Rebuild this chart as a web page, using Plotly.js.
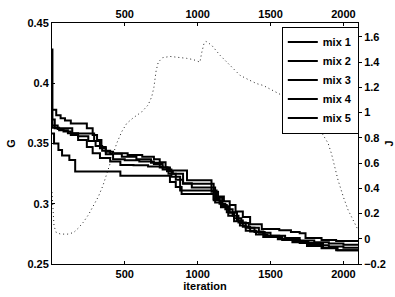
<!DOCTYPE html>
<html>
<head>
<meta charset="utf-8">
<script src="https://cdn.plot.ly/plotly-3.0.1.min.js"></script>
<style>html,body{margin:0;padding:0;background:#fff;}#chart{width:395px;height:297px;}</style>
</head>
<body>
<div id="chart"></div>
<script>
// ---- data ----
const seriesNames = ["mix 1", "mix 2", "mix 3", "mix 4", "mix 5"];

const mix1Iter = [1, 4, 50, 110, 180, 250, 300, 345, 400, 480, 580, 680, 740, 790, 830, 900, 960, 1090, 1110, 1160, 1200, 1250, 1300, 1350, 1420, 1500, 1600, 1700, 1800, 1900, 2000, 2100];
const mix1G    = [0.428, 0.363, 0.361, 0.3585, 0.356, 0.352, 0.348, 0.344, 0.3415, 0.339, 0.337, 0.334, 0.330, 0.327, 0.325, 0.3165, 0.3165, 0.3165, 0.303, 0.299, 0.293, 0.288, 0.284, 0.280, 0.276, 0.2735, 0.2715, 0.2695, 0.268, 0.267, 0.266, 0.266];

const mix2Iter = [1, 30, 60, 90, 130, 180, 240, 280, 310, 340, 370, 420, 520, 620, 700, 740, 780, 810, 927, 1095, 1140, 1180, 1220, 1260, 1310, 1360, 1440, 1560, 1640, 1700, 1740, 1850, 1950, 2100];
const mix2G    = [0.378, 0.3735, 0.371, 0.369, 0.3665, 0.3665, 0.3626, 0.357, 0.353, 0.347, 0.3432, 0.342, 0.3405, 0.339, 0.337, 0.3345, 0.330, 0.3275, 0.3195, 0.310, 0.306, 0.302, 0.299, 0.2935, 0.289, 0.283, 0.279, 0.278, 0.2765, 0.2755, 0.2715, 0.270, 0.269, 0.2685];

const mix3Iter = [1, 20, 70, 140, 200, 250, 290, 330, 370, 420, 500, 600, 700, 760, 800, 850, 900, 960, 1090, 1120, 1160, 1210, 1250, 1290, 1330, 1400, 1480, 1580, 1700, 1800, 1900, 2000, 2100];
const mix3G    = [0.370, 0.3626, 0.3626, 0.3584, 0.3584, 0.3584, 0.352, 0.346, 0.341, 0.337, 0.336, 0.335, 0.333, 0.330, 0.325, 0.320, 0.317, 0.3135, 0.3135, 0.301, 0.297, 0.290, 0.2855, 0.282, 0.2775, 0.2745, 0.2725, 0.270, 0.2675, 0.2655, 0.2645, 0.2635, 0.263];

const mix4Iter = [1, 40, 80, 130, 180, 240, 280, 330, 400, 470, 560, 660, 760, 820, 880, 1000, 1100, 1130, 1170, 1220, 1270, 1310, 1360, 1450, 1550, 1650, 1750, 1850, 1950, 2100];
const mix4G    = [0.365, 0.362, 0.360, 0.357, 0.353, 0.347, 0.342, 0.338, 0.335, 0.3322, 0.332, 0.331, 0.3285, 0.3225, 0.311, 0.311, 0.311, 0.305, 0.298, 0.2925, 0.286, 0.281, 0.277, 0.2725, 0.2705, 0.268, 0.265, 0.263, 0.2615, 0.2605];

const mix5Iter = [1, 15, 45, 70, 120, 160, 470, 780, 810, 850, 890, 1090, 1110, 1150, 1190, 1240, 1280, 1330, 1390, 1460, 1560, 1660, 1760, 1860, 1960, 2100];
const mix5G    = [0.3584, 0.350, 0.3446, 0.340, 0.3363, 0.3267, 0.3233, 0.3233, 0.318, 0.314, 0.308, 0.308, 0.304, 0.300, 0.2955, 0.290, 0.2845, 0.280, 0.2765, 0.2735, 0.271, 0.2685, 0.2665, 0.2635, 0.2615, 0.2615];

const jIter = [1, 8, 15, 30, 60, 110, 150, 182, 215, 251, 285, 319, 350, 377, 410, 445, 480, 514, 560, 617, 660, 685, 700, 715, 730, 760, 810, 860, 925, 970, 1016, 1027, 1043, 1057, 1096, 1153, 1221, 1290, 1350, 1404, 1450, 1507, 1598, 1689, 1758, 1826, 1895, 1918, 1963, 2000, 2032, 2089, 2100];
const jVal  = [0.37, 0.22, 0.10, 0.05, 0.037, 0.037, 0.05, 0.085, 0.13, 0.19, 0.26, 0.334, 0.42, 0.52, 0.64, 0.757, 0.85, 0.915, 0.96, 1.006, 1.06, 1.125, 1.20, 1.33, 1.40, 1.435, 1.445, 1.44, 1.43, 1.42, 1.40, 1.47, 1.545, 1.565, 1.534, 1.455, 1.375, 1.296, 1.26, 1.23, 1.215, 1.18, 1.125, 1.06, 0.994, 0.888, 0.757, 0.674, 0.465, 0.33, 0.228, 0.096, 0.07];

const gIters = [mix1Iter, mix2Iter, mix3Iter, mix4Iter, mix5Iter];
const gVals  = [mix1G, mix2G, mix3G, mix4G, mix5G];

// ---- chart ----
const FONT = {family: "Liberation Sans, Arial, sans-serif", size: 11, color: "#000", weight: "bold"};

const traces = gIters.map((xs, i) => ({
  type: "scatter", mode: "lines", name: seriesNames[i],
  x: xs, y: gVals[i], xaxis: "x", yaxis: "y",
  line: {color: "#000", width: 2, shape: "hv"}
}));
traces.push({
  type: "scatter", mode: "lines", name: "J", showlegend: false,
  x: jIter, y: jVal, xaxis: "x2", yaxis: "y2",
  line: {color: "#222", width: 1, dash: "1px,3px", shape: "linear"}
});

const layout = {
  width: 395, height: 297,
  margin: {l: 52, r: 37, t: 23, b: 33, pad: 0},
  paper_bgcolor: "#fff", plot_bgcolor: "#fff",
  font: FONT,
  showlegend: true,
  legend: {
    x: 0.751, y: 0.985, xanchor: "left", yanchor: "top",
    bgcolor: "#fff", bordercolor: "#000", borderwidth: 1,
    font: FONT, tracegroupgap: 0, itemwidth: 30
  },
  xaxis: {
    range: [1, 2100], tick0: 0, dtick: 500,
    showline: true, linecolor: "#000", linewidth: 1, mirror: false,
    ticks: "inside", ticklen: 3, tickcolor: "#000",
    showgrid: false, zeroline: false,
    tickfont: FONT,
    title: {text: "iteration", font: FONT, standoff: 2}
  },
  yaxis: {
    range: [0.25, 0.45], tick0: 0.25, dtick: 0.05,
    showline: true, linecolor: "#000", linewidth: 1,
    ticks: "inside", ticklen: 3, tickcolor: "#000",
    showgrid: false, zeroline: false,
    tickfont: FONT,
    title: {text: "G", font: FONT, standoff: 9}
  },
  xaxis2: {
    overlaying: "x", side: "top", anchor: "y2",
    range: [1, 2100], tick0: 0, dtick: 500,
    showline: true, linecolor: "#000", linewidth: 1,
    ticks: "inside", ticklen: 3, tickcolor: "#000",
    showgrid: false, zeroline: false,
    tickfont: FONT
  },
  yaxis2: {
    overlaying: "y", side: "right", anchor: "x2",
    range: [-0.2, 1.71], tick0: 0, dtick: 0.2,
    showline: true, linecolor: "#000", linewidth: 1,
    ticks: "outside", ticklen: 3, tickcolor: "#000",
    showgrid: false, zeroline: false,
    tickfont: FONT,
    title: {text: "J", font: FONT, standoff: 4}
  }
};

Plotly.newPlot("chart", traces, layout, {staticPlot: true, displayModeBar: false});
</script>
</body>
</html>
